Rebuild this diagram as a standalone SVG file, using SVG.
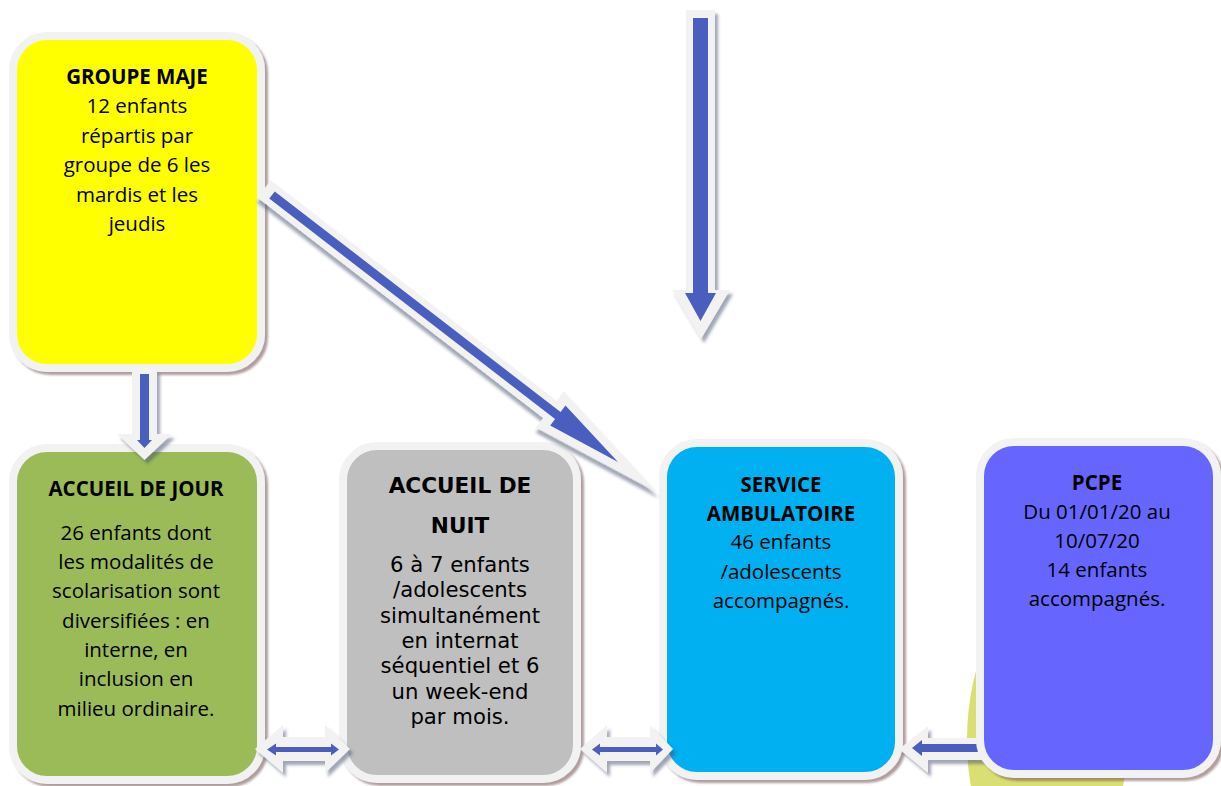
<svg xmlns="http://www.w3.org/2000/svg" width="1221" height="786" viewBox="0 0 1221 786">
<defs>
  <filter id="boxShadow" x="-10%" y="-10%" width="125%" height="125%">
    <feDropShadow dx="3" dy="3" stdDeviation="1.2" flood-color="#7d5a5a" flood-opacity="0.6"/>
  </filter>
  <filter id="arrowShadow" x="-20%" y="-20%" width="150%" height="150%">
    <feDropShadow dx="3" dy="4" stdDeviation="1.5" flood-color="#41506e" flood-opacity="0.5"/>
  </filter>
</defs>
<style>
  .box { stroke: #f2f2f2; stroke-width: 8; filter: url(#boxShadow); }
  .outline { fill: #f2f2f2; filter: url(#arrowShadow); }
  .blue { fill: #4a5ec0; }
  .cal { font-family: "Open Sans", Lato, "Liberation Sans", sans-serif; font-size: 20.5px; fill: #000; text-anchor: middle; }
  .b { font-weight: bold; }
  .ver { font-family: "DejaVu Sans", Verdana, sans-serif; font-size: 21.2px; fill: #000; text-anchor: middle; }
  .verb { font-weight: bold; font-size: 21.6px; }
</style>
<rect x="0" y="0" width="1221" height="786" fill="#ffffff"/>
<ellipse id="bg-shape" cx="1047" cy="740" rx="80" ry="150" fill="#d9df70"/>

<g id="groupe-maje">
  <rect class="box" x="13" y="36" width="248" height="332" rx="34" fill="#ffff00"/>
  <text class="cal b" x="137" y="84">GROUPE MAJE</text>
  <text class="cal" x="137" y="113">12 enfants</text>
  <text class="cal" x="137" y="143">répartis par</text>
  <text class="cal" x="137" y="172">groupe de 6 les</text>
  <text class="cal" x="137" y="202">mardis et les</text>
  <text class="cal" x="137" y="231">jeudis</text>
</g>

<g id="accueil-jour">
  <rect class="box" x="13" y="448" width="248" height="332" rx="34" fill="#9bbb59"/>
  <text class="cal b" x="136" y="496">ACCUEIL DE JOUR</text>
  <text class="cal" x="136" y="540">26 enfants dont</text>
  <text class="cal" x="136" y="569">les modalités de</text>
  <text class="cal" x="136" y="598">scolarisation sont</text>
  <text class="cal" x="136" y="628">diversifiées : en</text>
  <text class="cal" x="136" y="657">interne, en</text>
  <text class="cal" x="136" y="686">inclusion en</text>
  <text class="cal" x="136" y="716">milieu ordinaire.</text>
</g>

<g id="accueil-nuit">
  <rect class="box" x="343" y="446" width="234" height="333" rx="34" fill="#bfbfbf"/>
  <text class="ver verb" x="460" y="493">ACCUEIL DE</text>
  <text class="ver verb" x="460" y="533">NUIT</text>
  <text class="ver" x="460" y="572">6 à 7 enfants</text>
  <text class="ver" x="460" y="597">/adolescents</text>
  <text class="ver" x="460" y="623">simultanément</text>
  <text class="ver" x="460" y="648">en internat</text>
  <text class="ver" x="460" y="673">séquentiel et 6</text>
  <text class="ver" x="460" y="699">un week-end</text>
  <text class="ver" x="460" y="724">par mois.</text>
</g>

<g id="service-ambulatoire">
  <rect class="box" x="663" y="443" width="236" height="333" rx="34" fill="#00b0f0"/>
  <text class="cal b" x="781" y="492">SERVICE</text>
  <text class="cal b" x="781" y="521">AMBULATOIRE</text>
  <text class="cal" x="781" y="549">46 enfants</text>
  <text class="cal" x="781" y="579">/adolescents</text>
  <text class="cal" x="781" y="608">accompagnés.</text>
</g>

<g id="connectors">
  <!-- top vertical arrow -->
  <polygon class="outline" points="686,10 715,10 715,290 730,290 701,339 672,290 686,290"/>
  <polygon class="blue" points="693,18 708,18 708,293 716,293 700.5,321 685,293 693,293"/>
  <!-- yellow to green -->
  <polygon class="outline" points="132,370 157,370 157,434 172,434 144.5,460 117,434 132,434"/>
  <polygon class="blue" points="140,374 149,374 149,440 152,440 144.5,448 137,440 140,440"/>
  <!-- diagonal -->
  <g transform="translate(272,195) rotate(37.65)">
    <polygon class="outline" points="-10,-11 351,-11 351,-23 488,0 351,23 351,11 -10,11"/>
    <polygon class="blue" points="0,-4.5 361,-4.5 361,-12.5 437,0 361,12.5 361,4.5 0,4.5"/>
  </g>
  <!-- green <-> grey -->
  <polygon class="outline" points="255,749 283,725 283,737 325,737 325,725 350,749 325,773 325,761 283,761 283,773"/>
  <polygon class="blue" points="267,749.5 276,743.5 276,747 331,747 331,743.5 339,749.5 331,755.5 331,752 276,752 276,755.5"/>
  <!-- grey <-> cyan -->
  <polygon class="outline" points="580,749 607,725 607,737 650,737 650,725 673,749 650,773 650,761 607,761 607,773"/>
  <polygon class="blue" points="592,749.5 600,743.5 600,747 656,747 656,743.5 663,749.5 656,755.5 656,752 600,752 600,755.5"/>
  <!-- PCPE -> cyan -->
  <polygon class="outline" points="899,749 928,726 928,738 986,738 986,760 928,760 928,773"/>
  <polygon class="blue" points="912,748 922,740 922,744 984,744 984,752 922,752 922,756"/>
</g>

<g id="pcpe">
  <rect class="box" x="980" y="442" width="237" height="332" rx="34" fill="#6666ff"/>
  <text class="cal b" x="1097" y="490">PCPE</text>
  <text class="cal" x="1097" y="519">Du 01/01/20 au</text>
  <text class="cal" x="1097" y="548">10/07/20</text>
  <text class="cal" x="1097" y="577">14 enfants</text>
  <text class="cal" x="1097" y="606">accompagnés.</text>
</g>
</svg>
